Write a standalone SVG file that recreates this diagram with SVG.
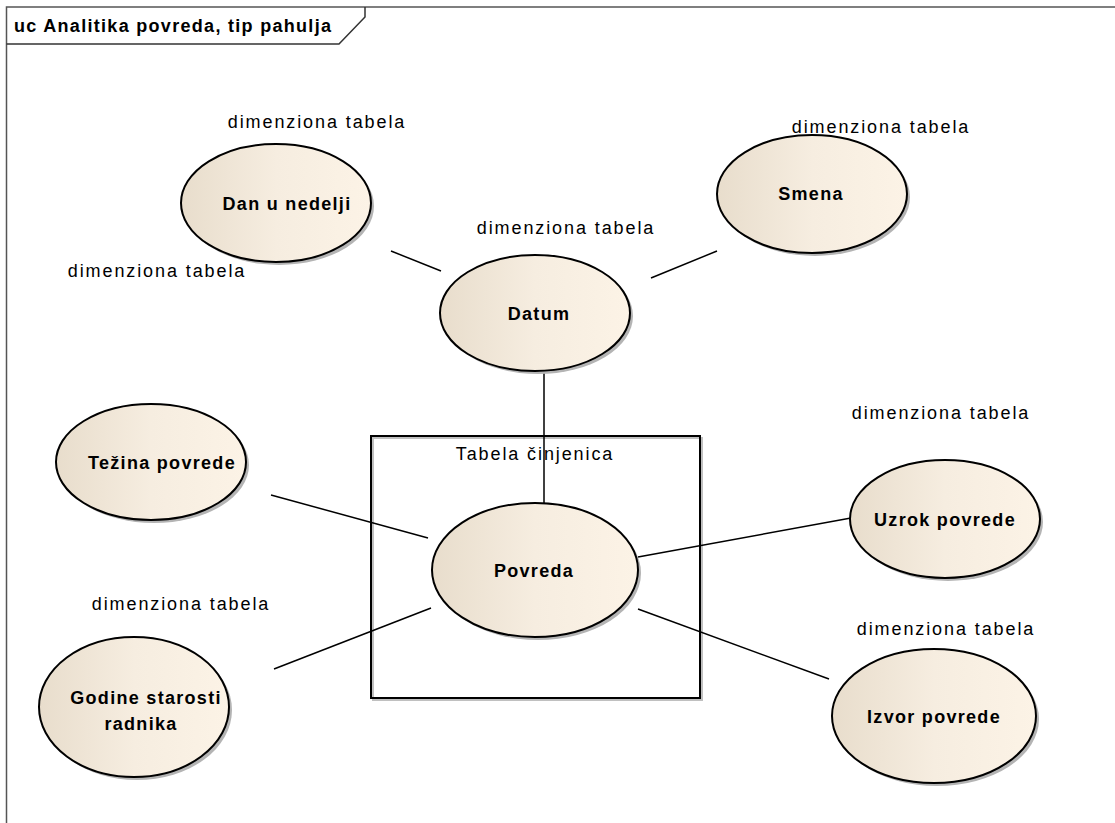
<svg xmlns="http://www.w3.org/2000/svg" width="1115" height="823" viewBox="0 0 1115 823">
<defs>
<linearGradient id="fillG" x1="0" y1="0" x2="1" y2="0">
<stop offset="0" stop-color="#E8DDCC"/>
<stop offset="0.5" stop-color="#F6EDE0"/>
<stop offset="1" stop-color="#FCF3E6"/>
</linearGradient>
<style>
.frame{fill:none;stroke:#555;stroke-width:1.5}
.uc{fill:url(#fillG);stroke:#000;stroke-width:2}
.sh{fill:#B4B4B4}
.con{stroke:#000;stroke-width:1.5;fill:none}
.lbl{font-family:"Liberation Sans",Arial,sans-serif;font-size:18px;font-weight:bold;fill:#000;text-anchor:middle;letter-spacing:1.3px}
.dim{font-family:"Liberation Sans",Arial,sans-serif;font-size:18px;fill:#000;text-anchor:middle;letter-spacing:1.9px}
.title{font-family:"Liberation Sans",Arial,sans-serif;font-size:18px;font-weight:bold;fill:#000;letter-spacing:1.3px}
</style>
</defs>
<rect width="1115" height="823" fill="#fff"/>
<g id="frame">
<path class="frame" d="M6.5 823 V7 H1115"/>
<path d="M6.5 44 H339 L365 17 V7" fill="none" stroke="#333" stroke-width="1.5"/>
<text class="title" x="14" y="32">uc Analitika povreda, tip pahulja</text>
</g>
<g id="tabela-cinjenica">
<rect x="373" y="438" width="329" height="262" fill="none" stroke="#C0C0C0" stroke-width="2"/>
<rect x="371" y="436" width="329" height="262" fill="none" stroke="#000" stroke-width="2"/>
<text class="dim" x="535" y="460">Tabela činjenica</text>
</g>
<g id="connectors">
<line class="con" x1="391" y1="251" x2="441" y2="271"/>
<line class="con" x1="651" y1="278" x2="717" y2="251"/>
<line class="con" x1="544" y1="371" x2="544" y2="503"/>
<line class="con" x1="271" y1="495" x2="428" y2="538"/>
<line class="con" x1="274" y1="669" x2="431" y2="608"/>
<line class="con" x1="638" y1="557" x2="851" y2="518"/>
<line class="con" x1="638" y1="609" x2="829" y2="679"/>
</g>
<g id="dan-u-nedelji">
<ellipse class="sh" cx="279" cy="206" rx="95" ry="59"/>
<ellipse class="uc" cx="276" cy="203" rx="95" ry="59"/>
<text class="lbl" x="287" y="210">Dan u nedelji</text>
<text class="dim" x="317" y="128">dimenziona tabela</text>
</g>
<g id="smena">
<ellipse class="sh" cx="815" cy="197" rx="95" ry="59"/>
<ellipse class="uc" cx="812" cy="194" rx="95" ry="59"/>
<text class="lbl" x="811" y="200">Smena</text>
<text class="dim" x="881" y="133">dimenziona tabela</text>
</g>
<g id="datum">
<ellipse class="sh" cx="538" cy="316" rx="95" ry="58"/>
<ellipse class="uc" cx="535" cy="313" rx="95" ry="58"/>
<text class="lbl" x="539" y="320">Datum</text>
<text class="dim" x="566" y="234">dimenziona tabela</text>
</g>
<g id="tezina-povrede">
<ellipse class="sh" cx="154" cy="465" rx="95" ry="58"/>
<ellipse class="uc" cx="151" cy="462" rx="95" ry="58"/>
<text class="lbl" x="162" y="469">Težina povrede</text>
<text class="dim" x="157" y="277">dimenziona tabela</text>
</g>
<g id="povreda">
<ellipse class="sh" cx="538" cy="573" rx="103" ry="67"/>
<ellipse class="uc" cx="535" cy="570" rx="103" ry="67"/>
<text class="lbl" x="534" y="577">Povreda</text>
</g>
<g id="uzrok-povrede">
<ellipse class="sh" cx="948" cy="522" rx="95" ry="59"/>
<ellipse class="uc" cx="945" cy="519" rx="95" ry="59"/>
<text class="lbl" x="945" y="526">Uzrok povrede</text>
<text class="dim" x="941" y="419">dimenziona tabela</text>
</g>
<g id="godine-starosti-radnika">
<ellipse class="sh" cx="137" cy="710" rx="95" ry="70"/>
<ellipse class="uc" cx="134" cy="707" rx="95" ry="70"/>
<text class="lbl" x="146" y="704">Godine starosti</text>
<text class="lbl" x="141" y="730">radnika</text>
<text class="dim" x="181" y="610">dimenziona tabela</text>
</g>
<g id="izvor-povrede">
<ellipse class="sh" cx="937" cy="719" rx="102" ry="67"/>
<ellipse class="uc" cx="934" cy="716" rx="102" ry="67"/>
<text class="lbl" x="934" y="723">Izvor povrede</text>
<text class="dim" x="946" y="635">dimenziona tabela</text>
</g>
</svg>
